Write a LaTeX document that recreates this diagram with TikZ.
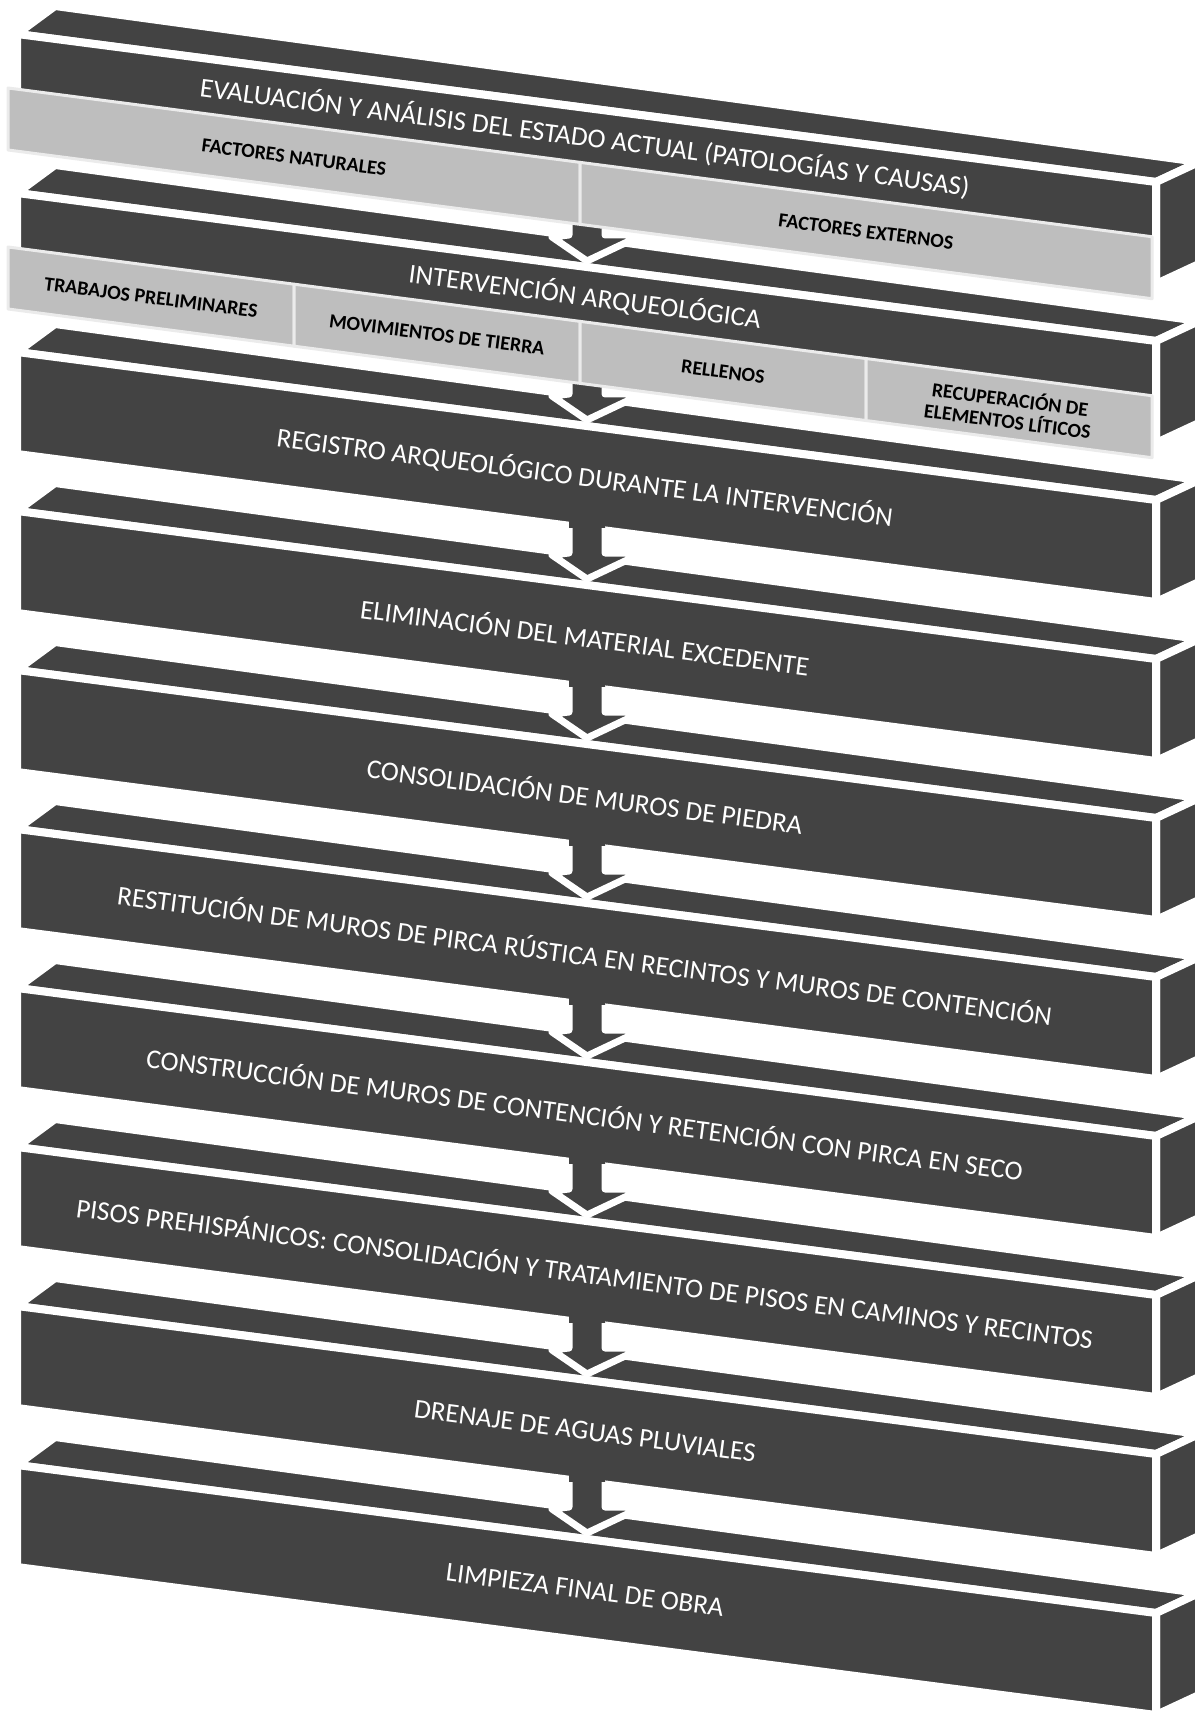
\documentclass[tikz,border=0pt]{standalone}
\usepackage{fontspec}
\setmainfont{Carlito}
\definecolor{bardark}{HTML}{434343}
\definecolor{barlight}{HTML}{BEBEBE}

\begin{document}
\begin{tikzpicture}[
        x = 0.5pt, y = -0.5pt,
        line join=round,
        barface/.style = {fill=bardark, draw=white, line width=4pt},
        subface/.style = {fill=barlight, draw=black!8, line width=1.5pt},
        bartext/.style = {text=white, inner sep=0pt, font=\fontsize{13.6}{15}\selectfont, rotate=-7.4},
        subtext/.style = {text=black, inner sep=0pt, font=\bfseries\fontsize{10}{11}\selectfont, rotate=-7.4, align=center},
        arrowline/.style = {draw=white, line width=3.5pt}
    ]

    \useasboundingbox (0,0) rectangle (1195,1711);

    % the ten bars: top face, side face, front face
    \foreach \i in {0,...,9} {
        \pgfmathsetmacro{\ye}{34+159*\i}
        \draw[barface] (17,\ye) -- (55,\ye-28) -- (1199,\ye+128) -- (1156,\ye+148) -- cycle;
        \draw[barface] (1156,\ye+148) -- (1199,\ye+128) -- (1199,\ye+230) -- (1156,\ye+250) -- cycle;
        \draw[barface] (17,\ye) -- (1156,\ye+148) -- (1156,\ye+250) -- (17,\ye+102) -- cycle;
    }

    % arrows between the bars
    \foreach \i in {0,...,8} {
        \pgfmathsetmacro{\ya}{34+159*\i}
        \fill[bardark] (569,\ya+168) -- (569,\ya+201) -- (552,\ya+203) -- (587,\ya+227)
            -- (642,\ya+201) -- (605,\ya+201) -- (605,\ya+168) -- cycle;
        \draw[arrowline] (569,\ya+176) -- (569,\ya+201) -- (552,\ya+203) -- (587,\ya+227)
            -- (642,\ya+201) -- (605,\ya+201) -- (605,\ya+176);
    }

    % sub-bars
    \foreach \yb/\xa/\xb/\name/\lab in {
        88/8/580/nat/{FACTORES NATURALES},
        88/580/1152/ext/{FACTORES EXTERNOS},
        247/8/294/pre/{TRABAJOS PRELIMINARES},
        247/294/580/mov/{MOVIMIENTOS DE TIERRA},
        247/580/866/rel/{RELLENOS},
        247/866/1152/rec/{RECUPERACIÓN DE\\ELEMENTOS LÍTICOS}} {
        \draw[subface] (\xa,{\yb+0.13*(\xa-8)}) -- (\xb,{\yb+0.13*(\xb-8)})
            -- (\xb,{\yb+62+0.13*(\xb-8)}) -- (\xa,{\yb+62+0.13*(\xa-8)}) -- cycle;
        \node[subtext] (\name) at ({(\xa+\xb)/2},{\yb+32+0.13*((\xa+\xb)/2-8)}) {\lab};
    }

    % labels of the bars
    \foreach \i/\dy/\lab in {
        0/103/{EVALUACIÓN Y ANÁLISIS DEL ESTADO ACTUAL (PATOLOGÍAS Y CAUSAS)},
        1/103/{INTERVENCIÓN ARQUEOLÓGICA},
        2/125/{REGISTRO ARQUEOLÓGICO DURANTE LA INTERVENCIÓN},
        3/125/{ELIMINACIÓN DEL MATERIAL EXCEDENTE},
        4/125/{CONSOLIDACIÓN DE MUROS DE PIEDRA},
        5/125/{RESTITUCIÓN DE MUROS DE PIRCA RÚSTICA EN RECINTOS Y MUROS DE CONTENCIÓN},
        6/125/{CONSTRUCCIÓN DE MUROS DE CONTENCIÓN Y RETENCIÓN CON PIRCA EN SECO},
        7/125/{PISOS PREHISPÁNICOS: CONSOLIDACIÓN Y TRATAMIENTO DE PISOS EN CAMINOS Y RECINTOS},
        8/125/{DRENAJE DE AGUAS PLUVIALES},
        9/125/{LIMPIEZA FINAL DE OBRA}} {
        \node[bartext] (step\i) at (585,{34+159*\i+\dy}) {\lab};
    }
\end{tikzpicture}
\end{document}
